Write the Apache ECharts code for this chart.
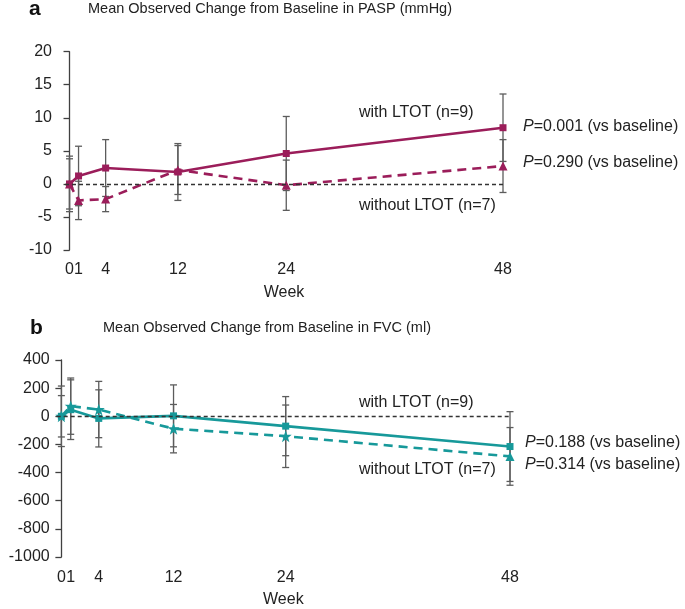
<!DOCTYPE html>
<html>
<head>
<meta charset="utf-8">
<script src="https://cdn.jsdelivr.net/npm/echarts@6/dist/echarts.min.js"></script>
<style>
html,body{margin:0;padding:0;background:#fff;}
#c{width:685px;height:609px;}
</style>
</head>
<body>
<div id="c"></div>
<script>
// ---- data ----
const weeks = [0, 1, 4, 12, 24, 48];
const xTickLabels = [0, 1, 4, 12, 24, 48];
const paspWith = [0, 1.2, 2.4, 1.8, 4.6, 8.5];
const paspWithSD = [4.2, 4.5, 4.3, 4.3, 5.6, 5.1];
const paspWithout = [0, -2.5, -2.3, 2.1, -0.2, 2.7];
const paspWithoutSD = [3.8, 2.9, 1.9, 3.7, 3.8, 4.0];
const fvcWith = [0, 47, -15, 3, -70, -215];
const fvcWithSD = [215, 212, 203, 220, 210, 248];
const fvcWithout = [0, 72, 48, -88, -142, -285];
const fvcWithoutSD = [147, 200, 200, 172, 222, 205];
const paspTicks = [-10, -5, 0, 5, 10, 15, 20];
const fvcTicks = [-1000, -800, -600, -400, -200, 0, 200, 400];

const FONT = 'Liberation Sans, Arial, Helvetica, sans-serif';
const MAG = '#9B1D5A';
const TEAL = '#17999A';
const TXT = '#222';

const pts = (vals) => weeks.map((w, i) => [w, vals[i]]);
const errs = (vals, sd) => weeks.map((w, i) => [w, vals[i] - sd[i], vals[i] + sd[i]]);

function errRender(params, api) {
  const x = api.value(0), lo = api.value(1), hi = api.value(2);
  const p1 = api.coord([x, hi]), p2 = api.coord([x, lo]);
  const w = 3.5;
  const st = { stroke: '#5c5c5c', lineWidth: 1.3 };
  return {
    type: 'group',
    children: [
      { type: 'line', shape: { x1: p1[0], y1: p1[1], x2: p2[0], y2: p2[1] }, style: st },
      { type: 'line', shape: { x1: p1[0] - w, y1: p1[1], x2: p1[0] + w, y2: p1[1] }, style: st },
      { type: 'line', shape: { x1: p2[0] - w, y1: p2[1], x2: p2[0] + w, y2: p2[1] }, style: st }
    ]
  };
}

const STAR = 'path://M0,-10L2.35,-3.24L9.51,-3.09L3.8,1.24L5.88,8.09L0,4L-5.88,8.09L-3.8,1.24L-9.51,-3.09L-2.35,-3.24Z';

function xAxisCfg(gridIndex, margin) {
  return {
    type: 'value', gridIndex, min: -0.5, max: 48, interval: 0.5,
    axisLine: { show: false }, axisTick: { show: false }, splitLine: { show: false },
    axisLabel: {
      margin, color: TXT, fontSize: 16, fontFamily: FONT,
      formatter: (v) => {
        const r = Math.round(v * 2) / 2;
        return xTickLabels.indexOf(r) >= 0 ? String(r) : '';
      }
    },
    name: 'Week', nameLocation: 'middle', nameGap: 35,
    nameTextStyle: { color: TXT, fontSize: 16, fontFamily: FONT }
  };
}
function yAxisCfg(gridIndex, ticks, margin) {
  return {
    type: 'value', gridIndex, min: ticks[0], max: ticks[ticks.length - 1],
    interval: ticks[1] - ticks[0],
    axisLine: { show: true, lineStyle: { color: '#404040', width: 1.3 } },
    axisTick: { show: true, inside: false, length: 6, lineStyle: { color: '#404040', width: 1.3 } },
    splitLine: { show: false },
    axisLabel: { margin, color: TXT, fontSize: 16, fontFamily: FONT, formatter: (v) => String(Math.round(v)) }
  };
}
const zeroLine = {
  silent: true, symbol: 'none', label: { show: false },
  lineStyle: { color: '#333', type: [4, 3], width: 1.3 },
  data: [{ yAxis: 0 }]
};

function txt(x, y, text, opts) {
  return {
    type: 'text', x, y, silent: true,
    style: Object.assign({
      text, fill: TXT, fontSize: 16, fontFamily: FONT,
      align: 'left', verticalAlign: 'middle',
      rich: { i: { fontStyle: 'italic', fontSize: 16, fontFamily: FONT, fill: TXT } }
    }, opts || {})
  };
}

const chart = echarts.init(document.getElementById('c'));
chart.setOption({
  animation: false,
  backgroundColor: '#fff',
  grid: [
    { left: 65, right: 182, top: 51.7, bottom: 359 },
    { left: 56.7, right: 175, top: 360, bottom: 50.7 }
  ],
  xAxis: [xAxisCfg(0, 12), xAxisCfg(1, 13)],
  yAxis: [yAxisCfg(0, paspTicks, 13), yAxisCfg(1, fvcTicks, 7)],
  series: [
    { type: 'custom', xAxisIndex: 0, yAxisIndex: 0, renderItem: errRender, data: errs(paspWith, paspWithSD), encode: { x: 0, y: [1, 2] }, z: 1 },
    { type: 'custom', xAxisIndex: 0, yAxisIndex: 0, renderItem: errRender, data: errs(paspWithout, paspWithoutSD), encode: { x: 0, y: [1, 2] }, z: 1 },
    { type: 'custom', xAxisIndex: 1, yAxisIndex: 1, renderItem: errRender, data: errs(fvcWith, fvcWithSD), encode: { x: 0, y: [1, 2] }, z: 1 },
    { type: 'custom', xAxisIndex: 1, yAxisIndex: 1, renderItem: errRender, data: errs(fvcWithout, fvcWithoutSD), encode: { x: 0, y: [1, 2] }, z: 1 },
    {
      name: 'PASP with LTOT', type: 'line', xAxisIndex: 0, yAxisIndex: 0, data: pts(paspWith),
      lineStyle: { color: MAG, width: 2.6 }, itemStyle: { color: MAG },
      symbol: 'rect', symbolSize: 7, showAllSymbol: true, z: 3, markLine: zeroLine
    },
    {
      name: 'PASP without LTOT', type: 'line', xAxisIndex: 0, yAxisIndex: 0, data: pts(paspWithout),
      lineStyle: { color: MAG, width: 2.6, type: [9, 6] }, itemStyle: { color: MAG },
      symbol: 'triangle', symbolSize: 9, showAllSymbol: true, z: 3
    },
    {
      name: 'FVC with LTOT', type: 'line', xAxisIndex: 1, yAxisIndex: 1, data: pts(fvcWith),
      lineStyle: { color: TEAL, width: 2.6 }, itemStyle: { color: TEAL },
      symbol: 'rect', symbolSize: 7, showAllSymbol: true, z: 3, markLine: zeroLine
    },
    {
      name: 'FVC without LTOT', type: 'line', xAxisIndex: 1, yAxisIndex: 1,
      data: pts(fvcWithout).map((p, i) => i === weeks.length - 1 ? { value: p, symbol: 'triangle', symbolSize: 9 } : p),
      lineStyle: { color: TEAL, width: 2.6, type: [9, 6] }, itemStyle: { color: TEAL },
      symbol: STAR, symbolSize: 12, showAllSymbol: true, z: 3
    }
  ],
  graphic: [
    txt(29, 9, 'a', { fontSize: 21, fontWeight: 'bold', fill: '#111' }),
    txt(88, 9, 'Mean Observed Change from Baseline in PASP (mmHg)', { fontSize: 14.5 }),
    txt(359, 113, 'with LTOT (n=9)'),
    txt(359, 206, 'without LTOT (n=7)'),
    txt(523, 127, '{i|P}=0.001 (vs baseline)'),
    txt(523, 163, '{i|P}=0.290 (vs baseline)'),
    txt(30, 328, 'b', { fontSize: 21, fontWeight: 'bold', fill: '#111' }),
    txt(103, 328, 'Mean Observed Change from Baseline in FVC (ml)', { fontSize: 14.5 }),
    txt(359, 403, 'with LTOT (n=9)'),
    txt(359, 470, 'without LTOT (n=7)'),
    txt(525, 443, '{i|P}=0.188 (vs baseline)'),
    txt(525, 465, '{i|P}=0.314 (vs baseline)')
  ]
});
</script>
</body>
</html>
